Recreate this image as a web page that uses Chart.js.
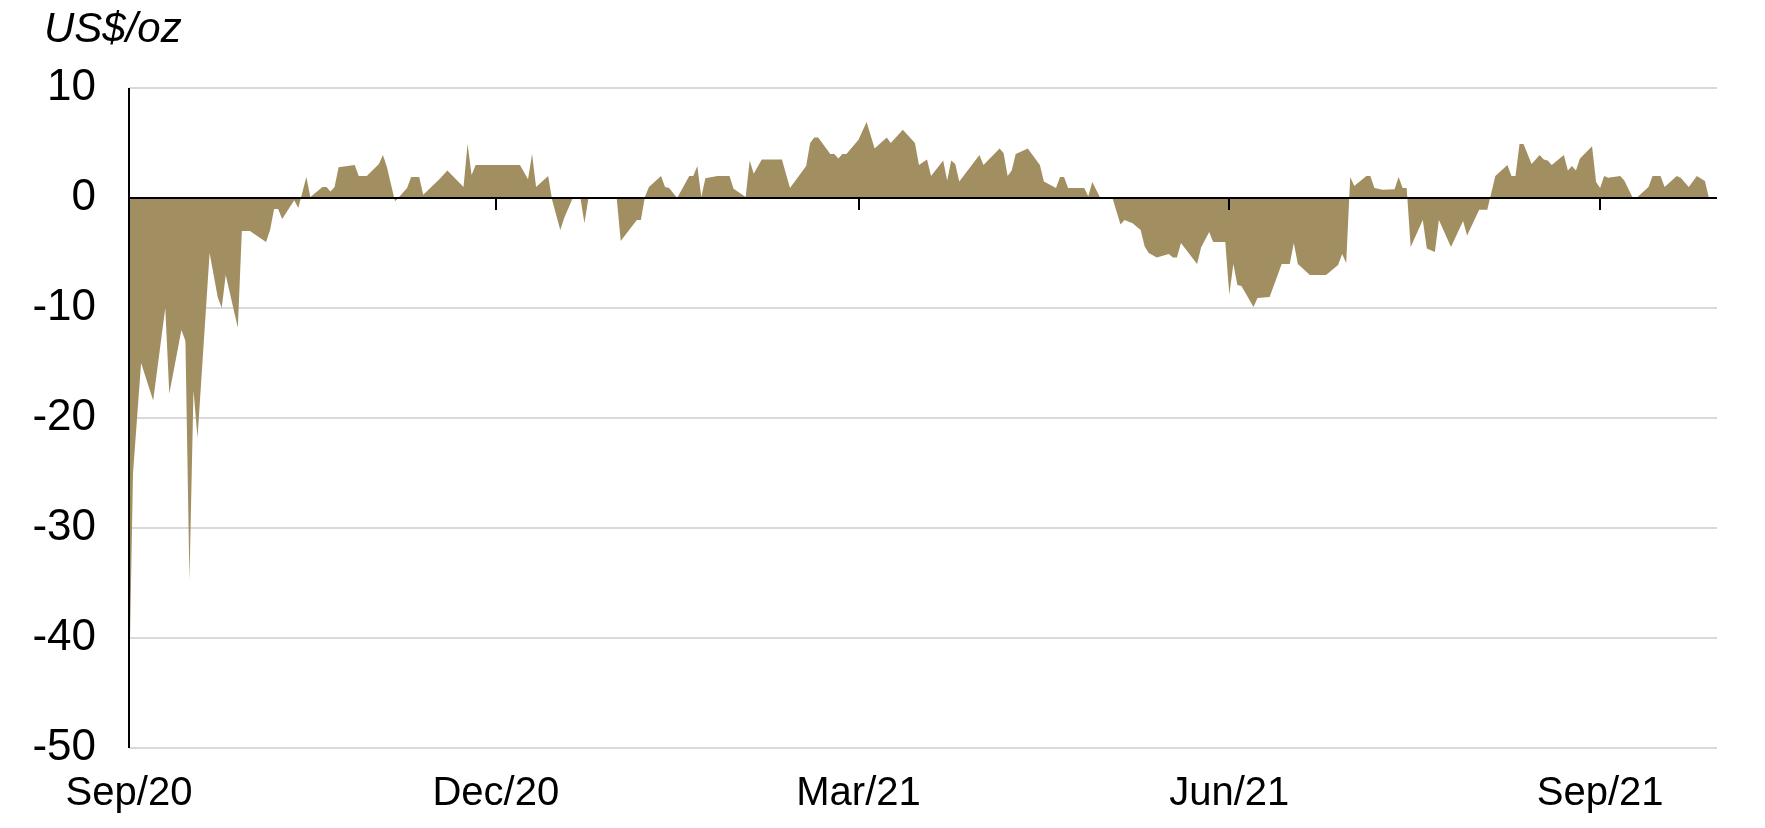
<!DOCTYPE html>
<html>
<head>
<meta charset="utf-8">
<script src="https://cdn.jsdelivr.net/npm/chart.js@4.4.1/dist/chart.umd.min.js"></script>
<style>
html,body{margin:0;padding:0;background:#ffffff;}
#wrap{width:1765px;height:828px;position:relative;}
</style>
</head>
<body>
<div id="wrap"><canvas id="c" width="1765" height="828"></canvas></div>
<script>
// ---- data ----
const dates = [
'2020-09-01','2020-09-02','2020-09-04','2020-09-07','2020-09-10','2020-09-11','2020-09-14','2020-09-15','2020-09-16','2020-09-17','2020-09-18',
'2020-09-21','2020-09-23','2020-09-24','2020-09-25','2020-09-28','2020-09-29',
'2020-10-01','2020-10-05','2020-10-06','2020-10-07','2020-10-08','2020-10-09','2020-10-12','2020-10-13','2020-10-15','2020-10-16',
'2020-10-19','2020-10-20','2020-10-21','2020-10-22','2020-10-23','2020-10-27','2020-10-28','2020-10-30',
'2020-11-02','2020-11-03','2020-11-04','2020-11-06','2020-11-07','2020-11-09','2020-11-10','2020-11-12','2020-11-13','2020-11-17','2020-11-19',
'2020-11-23','2020-11-24','2020-11-25','2020-11-26',
'2020-12-07','2020-12-09','2020-12-10','2020-12-11','2020-12-14','2020-12-15','2020-12-17','2020-12-18','2020-12-20','2020-12-22','2020-12-23','2020-12-24','2020-12-31',
'2021-01-01','2021-01-05','2021-01-06','2021-01-07','2021-01-08','2021-01-11','2021-01-12','2021-01-13','2021-01-15','2021-01-18','2021-01-19','2021-01-20',
'2021-01-21','2021-01-22','2021-01-25','2021-01-28','2021-01-29',
'2021-02-01','2021-02-02','2021-02-03','2021-02-05','2021-02-10','2021-02-11','2021-02-12','2021-02-16','2021-02-17','2021-02-18','2021-02-19',
'2021-02-22','2021-02-23','2021-02-24','2021-02-25','2021-02-26',
'2021-03-01','2021-03-03','2021-03-05','2021-03-08','2021-03-09','2021-03-12','2021-03-15','2021-03-16','2021-03-18','2021-03-19','2021-03-22',
'2021-03-23','2021-03-24','2021-03-25','2021-03-26','2021-03-31',
'2021-04-01','2021-04-05','2021-04-06','2021-04-07','2021-04-08','2021-04-09','2021-04-12','2021-04-15','2021-04-16','2021-04-19','2021-04-20',
'2021-04-21','2021-04-22','2021-04-26','2021-04-27','2021-04-28','2021-04-30',
'2021-05-03','2021-05-05','2021-05-06','2021-05-08','2021-05-10','2021-05-11','2021-05-12','2021-05-14','2021-05-17','2021-05-18','2021-05-19',
'2021-05-20','2021-05-24','2021-05-25','2021-05-27','2021-05-28','2021-05-31',
'2021-06-01','2021-06-02','2021-06-03','2021-06-04','2021-06-07','2021-06-08','2021-06-11','2021-06-14','2021-06-16','2021-06-17','2021-06-18',
'2021-06-21','2021-06-25','2021-06-28','2021-06-29','2021-06-30',
'2021-07-01','2021-07-02','2021-07-05','2021-07-06','2021-07-07','2021-07-09','2021-07-12','2021-07-13','2021-07-14','2021-07-15','2021-07-16',
'2021-07-19','2021-07-20','2021-07-22','2021-07-23','2021-07-26','2021-07-29','2021-07-30',
'2021-08-02','2021-08-04','2021-08-06','2021-08-09','2021-08-10','2021-08-11','2021-08-12','2021-08-13','2021-08-15','2021-08-17','2021-08-18',
'2021-08-19','2021-08-20','2021-08-23','2021-08-24','2021-08-25','2021-08-26','2021-08-27','2021-08-30','2021-08-31',
'2021-09-01','2021-09-02','2021-09-03','2021-09-06','2021-09-07','2021-09-09','2021-09-10','2021-09-13','2021-09-14','2021-09-16','2021-09-17',
'2021-09-20','2021-09-21','2021-09-23','2021-09-25','2021-09-27','2021-09-28'
];
const values = [
-45,-25,-15,-18.4,-10,-17.8,-12,-13,-34.7,-17.5,-21.8,
-5,-9,-10,-7,-11.8,-3,
-3,-4,-2.9,-1,-1,-1.9,-0.2,-0.9,1.9,0.1,
1.0,1.0,0.6,1.0,2.8,3.0,2.0,2.0,
3.1,3.9,2.8,-0.3,0.1,0.9,1.9,1.9,0.3,1.7,2.5,
1.0,4.9,2.1,3.0,
3.0,1.7,4.0,1.0,2.0,-0.2,-2.9,-1.8,-0.1,0,-2.3,0,0,
-3.9,-2.0,-2.0,0.1,1.0,2.0,1.0,0.9,0,2.0,2.0,2.9,
0.1,1.8,2.0,2.0,0.85,
0.1,3.4,2.2,3.5,3.5,2.2,0.9,2.9,5.0,5.5,5.5,
4.0,4.0,3.6,4.0,4.0,
5.3,6.9,4.5,5.5,5.0,6.2,5.0,3.0,3.5,2.0,3.4,
1.6,3.4,3.1,1.5,3.9,
3.0,4.5,4.1,2.0,2.5,4.0,4.5,3.0,1.5,0.9,1.9,
1.9,0.9,0.9,0.15,1.45,0,
0,-2.4,-2.0,-2.3,-2.9,-4.4,-5.0,-5.4,-5.1,-5.4,-5.4,
-4.1,-6.0,-4.5,-3.1,-4.0,-4.0,
-8.8,-6.0,-7.9,-8.0,-9.9,-9.1,-9.0,-6.0,-6.0,-4.1,-6.0,
-7.0,-7.0,-6.1,-5.1,-5.9,
1.9,1.1,2.0,2.0,0.9,0.75,0.8,1.9,0.9,0.9,-4.45,
-2.0,-4.6,-4.9,-2.0,-4.45,-2.1,-3.4,
-1.06,-1.06,2.0,3.0,2.0,2.0,4.9,4.9,3.1,3.9,3.5,
3.4,3.0,3.9,2.5,2.9,2.5,3.6,4.7,1.45,
0.9,2.0,1.85,2.0,1.6,0.1,0,1.0,2.0,2.0,1.0,
2.0,1.85,1.0,2.0,1.55,0
];
const tickDates = ['2020-09-01','2020-12-01','2021-03-01','2021-06-01','2021-09-01'];
const tickLabels = ['Sep/20','Dec/20','Mar/21','Jun/21','Sep/21'];
const axisStart = '2020-09-01';
const axisEnd = '2021-09-30';
const yMin = -50, yMax = 10, yStep = 10;
const unitLabel = 'US$/oz';

// ---- helpers ----
function dayOf(s){
  const p = s.split('-').map(Number);
  const a = axisStart.split('-').map(Number);
  return (Date.UTC(p[0],p[1]-1,p[2]) - Date.UTC(a[0],a[1]-1,a[2])) / 86400000;
}
const points = dates.map((d,i)=>({x: dayOf(d), y: values[i]}));
const tickValues = tickDates.map(dayOf);

const GOLD = 'rgb(162,143,97)';
const FONT = '"Liberation Sans", Arial, sans-serif';

const overlay = {
  id: 'overlay',
  afterDatasetsDraw(chart){
    const ctx = chart.ctx;
    const xs = chart.scales.x, ys = chart.scales.y;
    const ca = chart.chartArea;
    const y0 = ys.getPixelForValue(0);
    ctx.save();
    ctx.strokeStyle = '#000';
    ctx.lineWidth = 2;
    ctx.beginPath();
    ctx.moveTo(ca.left, y0);
    ctx.lineTo(ca.right, y0);
    ctx.stroke();
    ctx.beginPath();
    ctx.moveTo(ca.left, ys.getPixelForValue(yMax));
    ctx.lineTo(ca.left, ys.getPixelForValue(yMin));
    ctx.stroke();
    tickValues.forEach(v=>{
      const x = Math.round(xs.getPixelForValue(v));
      ctx.beginPath();
      ctx.moveTo(x, y0);
      ctx.lineTo(x, y0 + 12);
      ctx.stroke();
    });
    ctx.fillStyle = '#000';
    ctx.font = 'italic 42px ' + FONT;
    ctx.textAlign = 'left';
    ctx.textBaseline = 'alphabetic';
    ctx.fillText(unitLabel, 44, 42);
    ctx.restore();
  }
};

new Chart(document.getElementById('c'), {
  type: 'line',
  data: {
    datasets: [{
      data: points,
      fill: 'origin',
      backgroundColor: GOLD,
      borderColor: GOLD,
      borderWidth: 0,
      pointRadius: 0,
      tension: 0
    }]
  },
  options: {
    responsive: false,
    animation: false,
    devicePixelRatio: 1,
    layout: { padding: { left: 0, right: 48, top: 88, bottom: 0 } },
    plugins: { legend: { display: false }, tooltip: { enabled: false }, title: { display: false } },
    scales: {
      x: {
        type: 'linear',
        min: dayOf(axisStart),
        max: dayOf(axisEnd),
        grid: { display: false, drawTicks: false },
        border: { display: false },
        afterBuildTicks(scale){ scale.ticks = tickValues.map(v=>({value: v})); },
        afterFit(scale){ scale.height = 80; },
        ticks: {
          autoSkip: false, maxRotation: 0, minRotation: 0,
          padding: 22,
          color: '#000',
          font: { family: FONT, size: 40 },
          callback(v){ const i = tickValues.indexOf(v); return i >= 0 ? tickLabels[i] : ''; }
        }
      },
      y: {
        min: yMin, max: yMax,
        afterFit(scale){ scale.width = 129; },
        grid: { color: '#d9d9d9', lineWidth: 2, drawTicks: false },
        border: { display: false },
        ticks: {
          stepSize: yStep,
          padding: 33,
          color: '#000',
          font: { family: FONT, size: 44 }
        }
      }
    }
  },
  plugins: [overlay]
});
</script>
</body>
</html>
